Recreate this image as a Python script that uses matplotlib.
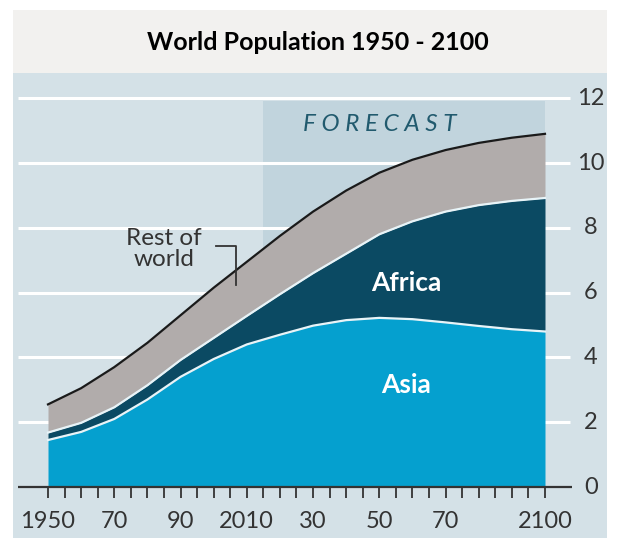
import matplotlib
matplotlib.use('Agg')
import matplotlib.pyplot as plt
from matplotlib.patches import Rectangle
import numpy as np

plt.rcParams['font.family'] = ['Lato', 'DejaVu Sans']

# data (billions)
years = [1950, 1960, 1970, 1980, 1990, 2000, 2010, 2020, 2030, 2040, 2050, 2060, 2070, 2080, 2090, 2100]
asia = [1.45, 1.70, 2.10, 2.70, 3.40, 3.95, 4.40, 4.70, 4.98, 5.15, 5.22, 5.18, 5.08, 4.97, 4.87, 4.80]
africa = [0.23, 0.28, 0.36, 0.44, 0.52, 0.65, 0.88, 1.25, 1.62, 2.05, 2.58, 3.02, 3.42, 3.73, 3.96, 4.12]
rest = [0.87, 1.07, 1.24, 1.31, 1.38, 1.55, 1.67, 1.80, 1.90, 1.95, 1.90, 1.90, 1.90, 1.92, 1.95, 1.98]
xtick_years = [1950, 1970, 1990, 2010, 2030, 2050, 2070, 2100]
xtick_labels = ['1950', '70', '90', '2010', '30', '50', '70', '2100']
yticks = [0, 2, 4, 6, 8, 10, 12]
forecast_start = 2015

panel = '#d4e1e7'
c_asia = '#05a0cf'
c_africa = '#0b4a63'
c_rest = '#b1acab'
c_fc = '#c1d4dd'
txt = '#333333'

W, H = 620, 538
fig = plt.figure(figsize=(W / 100, H / 100), dpi=100)
fig.patch.set_facecolor('white')

# title band
fig.add_artist(Rectangle((13 / W, 1 - 73 / H), (607 - 13) / W, 63 / H,
                         transform=fig.transFigure, facecolor='#f2f1ef', edgecolor='none'))
fig.text(318 / W, 1 - 42 / H, 'World Population 1950 - 2100', ha='center', va='center',
         fontsize=18, fontweight='bold', color='black')

ax = fig.add_axes([13 / W, 0, (607 - 13) / W, (538 - 73) / H])
ax.set_facecolor(panel)
px_x = 3.313
px_y = 32.4
ax.set_xlim(1950 - 35 / px_x, 2100 + 62 / px_x)
ax.set_ylim(-51 / px_y, 414 / px_y)
for s in ax.spines.values():
    s.set_visible(False)
ax.set_xticks([])
ax.set_yticks([])

# forecast shading
ax.add_patch(Rectangle((forecast_start, 0), 2100 - forecast_start, 11.9,
                       facecolor=c_fc, edgecolor='none', zorder=1))
ax.text(2050, 11.2, 'F O R E C A S T', ha='center', va='center', fontsize=17.5,
        fontstyle='italic', color='#215a6e', zorder=2)

# gridlines
x_grid0 = 1950 - 30 / px_x
x_grid1 = 2100 + 25 / px_x
ax.hlines(yticks[1:], x_grid0, x_grid1, colors='white', lw=2.2, zorder=2)

yrs = np.array(years)
a = np.array(asia)
af = a + np.array(africa)
tot = af + np.array(rest)
ax.fill_between(yrs, 0, a, color=c_asia, lw=0, zorder=3)
ax.fill_between(yrs, a, af, color=c_africa, lw=0, zorder=3)
ax.fill_between(yrs, af, tot, color=c_rest, lw=0, zorder=3)
ax.plot(yrs, a, color='#e8f4f8', lw=1.6, zorder=4)
ax.plot(yrs, af, color='#e8f4f8', lw=1.6, zorder=4)
ax.plot(yrs, tot, color='#1a1a1a', lw=1.6, zorder=4)

# zero line and ticks
ax.hlines(0, x_grid0, 2100 + 27 / px_x, colors=txt, lw=1.6, zorder=5)
ax.vlines(np.arange(1950, 2101, 5), -0.33, 0, colors=txt, lw=1.3, zorder=5)
for yr, lab in zip(xtick_years, xtick_labels):
    ax.text(yr, -1.08, lab, ha='center', va='center', fontsize=17, color=txt)
for v in yticks:
    ax.text(2100 + 46 / px_x, v, str(v), ha='center', va='center', fontsize=17, color=txt)

# labels
ax.text(2058, 6.3, 'Africa', ha='center', va='center', fontsize=19,
        fontweight='bold', color='white', zorder=6)
ax.text(2058, 3.15, 'Asia', ha='center', va='center', fontsize=19,
        fontweight='bold', color='white', zorder=6)
ax.text(1985.0, 7.35, 'Rest of\nworld', ha='center', va='center', fontsize=17.5,
        color=txt, linespacing=1.0, zorder=6)
ax.plot([2000.6, 2006.8, 2006.8], [7.45, 7.45, 6.25], color=txt, lw=1.3, zorder=6)

fig.savefig('out.png', dpi=100, facecolor='white')
